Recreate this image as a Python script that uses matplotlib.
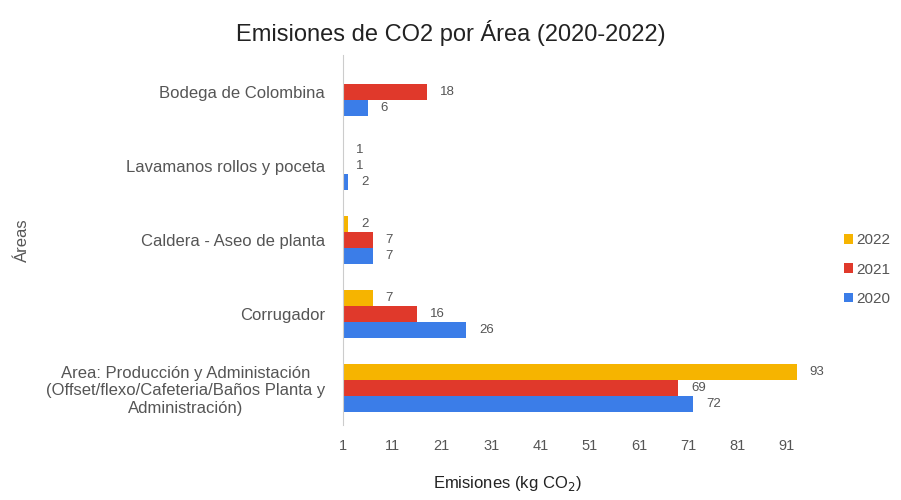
import matplotlib
matplotlib.use('Agg')
import matplotlib.pyplot as plt
import numpy as np

# data
areas = ['Bodega de Colombina',
         'Lavamanos rollos y poceta',
         'Caldera - Aseo de planta',
         'Corrugador',
         'Area: Producción y Administación\n(Offset/flexo/Cafeteria/Baños Planta y\nAdministración)']
years = ['2022', '2021', '2020']
vals_2022 = [0, 1, 2, 7, 93]
vals_2021 = [18, 1, 7, 16, 69]
vals_2020 = [6, 2, 7, 26, 72]
xticks = [1, 11, 21, 31, 41, 51, 61, 71, 81, 91]

colors = ['#F6B400', '#E0392B', '#3B7DE8']
gray = '#555555'

plt.rcParams['font.family'] = ['Liberation Sans', 'DejaVu Sans']

fig = plt.figure(figsize=(9.01, 5), dpi=100)
ax = fig.add_axes([0.381, 0.15, 0.525, 0.74])

y = np.arange(len(areas))
h = 0.215
series = [vals_2022, vals_2021, vals_2020]
for i, (vals, yr, c) in enumerate(zip(series, years, colors)):
    pos = y + (i - 1) * h
    ax.barh(pos, vals, height=h, color=c, label=yr)
    for p, v in zip(pos, vals):
        if v > 0:
            ax.text(max(v, 1) + 2.6, p, str(v), va='center', ha='left',
                    fontsize=9.5, color=gray)

ax.set_xlim(1, 97)
ax.set_ylim(len(areas) - 0.5, -0.5)
ax.set_xticks(xticks)
ax.set_yticks(y)
ax.set_yticklabels(areas, fontsize=12, color=gray, ha='right',
                   multialignment='center')
ax.tick_params(axis='y', length=0, pad=13)
ax.tick_params(axis='x', length=0, labelsize=10.5, labelcolor=gray, pad=10)

for s in ['top', 'right', 'bottom']:
    ax.spines[s].set_visible(False)
ax.spines['left'].set_color('#cccccc')

fig.text(0.5, 0.935, 'Emisiones de CO2 por Área (2020-2022)', ha='center',
         va='center', fontsize=17, color='#222222')
fig.text(0.563, 0.033, 'Emisiones (kg CO$_2$)', ha='center', va='center',
         fontsize=12, color='#222222')
fig.text(0.025, 0.52, 'Áreas', rotation=90, ha='center', va='center',
         fontsize=12, color=gray)

leg = ax.legend(loc='center left', bbox_to_anchor=(1.045, 0.42), frameon=False,
                handlelength=0.6, handleheight=0.6, handletextpad=0.2,
                labelspacing=1.0, fontsize=11, borderaxespad=0)
for t in leg.get_texts():
    t.set_color(gray)

fig.savefig('out.png', dpi=100)
